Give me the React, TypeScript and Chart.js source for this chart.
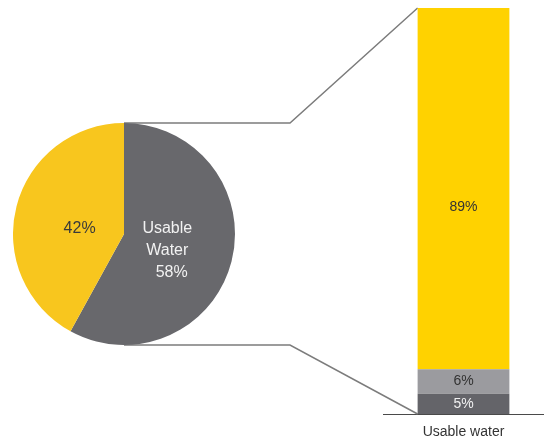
import React, { useEffect, useRef } from "react";
import { Chart, registerables } from "chart.js";

Chart.register(...registerables);

// Pie: share of water
const pieLabels = ["Usable Water", "Other"];
const pieValues = [58, 42];
const pieTexts = [["Usable", "Water", "58%"], ["42%"]];

// Stacked bar: breakdown of usable water (bottom to top)
const barCategories = ["Usable water"];
const barSeriesNames = ["Part A", "Part B", "Part C"];
const barValues = [[5], [6], [89]];
const barTexts = ["5%", "6%", "89%"];

const PIE_LEFT = 13;
const PIE_TOP = 123;
const PIE_SIZE = 222;

export default function App() {
  const pieRef = useRef<HTMLCanvasElement | null>(null);
  const barRef = useRef<HTMLCanvasElement | null>(null);

  useEffect(() => {
    document.body.style.margin = "0";
    const font = "'Liberation Sans', Arial, sans-serif";

    const pieLabelPlugin = {
      id: "pieLabels",
      afterDatasetsDraw(chart: any) {
        const ctx = chart.ctx;
        const meta = chart.getDatasetMeta(0);
        ctx.save();
        ctx.textAlign = "center";
        ctx.textBaseline = "middle";
        ctx.font = `16px ${font}`;
        const a0 = meta.data[0];
        const cx = a0.x, cy = a0.y;
        const r = a0.outerRadius;
        ctx.fillStyle = "#f2f2f2";
        const lines = pieTexts[0];
        ctx.fillText(lines[0], cx + r * 0.39, cy - 5);
        ctx.fillText(lines[1], cx + r * 0.39, cy + 17);
        ctx.fillText(lines[2], cx + r * 0.43, cy + 39);
        ctx.fillStyle = "#3a3a3a";
        ctx.fillText(pieTexts[1][0], cx - r * 0.4, cy - 5);
        ctx.restore();
      },
    };

    const pie = new Chart(pieRef.current!, {
      type: "pie",
      data: {
        labels: pieLabels,
        datasets: [
          {
            data: pieValues,
            backgroundColor: ["#68686c", "#f8c61e"],
            borderWidth: 0,
          },
        ],
      },
      options: {
        responsive: false,
        animation: false,
        layout: { padding: 0 },
        plugins: { legend: { display: false }, tooltip: { enabled: false } },
      },
      plugins: [pieLabelPlugin],
    });

    const connectorPlugin = {
      id: "connectors",
      beforeDatasetsDraw(chart: any) {
        const pm = pie.getDatasetMeta(0).data[0] as any;
        const px = PIE_LEFT + pm.x;
        const pTop = PIE_TOP + pm.y - pm.outerRadius;
        const pBot = PIE_TOP + pm.y + pm.outerRadius;
        const topBar = chart.getDatasetMeta(2).data[0] as any;
        const botBar = chart.getDatasetMeta(0).data[0] as any;
        const bx = topBar.x - topBar.width / 2;
        const elbow = 290;
        const ctx = chart.ctx;
        ctx.save();
        ctx.strokeStyle = "#7c7c7c";
        ctx.lineWidth = 1.5;
        ctx.beginPath();
        ctx.moveTo(px, pTop);
        ctx.lineTo(elbow, pTop);
        ctx.lineTo(bx, topBar.y);
        ctx.moveTo(px, pBot);
        ctx.lineTo(elbow, pBot);
        ctx.lineTo(botBar.x - botBar.width / 2, botBar.base);
        ctx.stroke();
        ctx.restore();
      },
      afterDatasetsDraw(chart: any) {
        const ctx = chart.ctx;
        ctx.save();
        ctx.textAlign = "center";
        ctx.textBaseline = "middle";
        ctx.font = `14px ${font}`;
        const colors = ["#f2f2f2", "#333333", "#333333"];
        const shift = [0, 0, 18];
        for (let i = 0; i < 3; i++) {
          const el = chart.getDatasetMeta(i).data[0] as any;
          ctx.fillStyle = colors[i];
          ctx.fillText(barTexts[i], el.x, (el.y + el.base) / 2 + shift[i]);
        }
        ctx.restore();
      },
    };

    const barColors = ["#646469", "#9b9b9f", "#ffd200"];
    const bar = new Chart(barRef.current!, {
      type: "bar",
      data: {
        labels: barCategories,
        datasets: barValues.map((v, i) => ({
          label: barSeriesNames[i],
          data: v,
          backgroundColor: barColors[i],
          borderWidth: 0,
          barPercentage: 0.57,
          categoryPercentage: 1,
        })),
      },
      options: {
        responsive: false,
        animation: false,
        layout: { padding: { left: 383, top: 8, right: 0, bottom: 0 } },
        plugins: { legend: { display: false }, tooltip: { enabled: false } },
        scales: {
          x: {
            stacked: true,
            grid: { display: false },
            border: { display: true, color: "#4a4a4a", width: 1 },
            ticks: { color: "#333333", font: { size: 14, family: font }, padding: 2 },
            afterFit(scale: any) {
              scale.height = 28;
            },
          },
          y: { stacked: true, display: false, min: 0, max: 100 },
        },
      },
      plugins: [connectorPlugin],
    });

    return () => {
      bar.destroy();
      pie.destroy();
    };
  }, []);

  return (
    <div style={{ position: "relative", width: 544, height: 442, background: "#fff" }}>
      <canvas ref={barRef} width={544} height={442} style={{ position: "absolute", left: 0, top: 0 }} />
      <canvas
        ref={pieRef}
        width={PIE_SIZE}
        height={PIE_SIZE}
        style={{ position: "absolute", left: PIE_LEFT, top: PIE_TOP }}
      />
    </div>
  );
}
